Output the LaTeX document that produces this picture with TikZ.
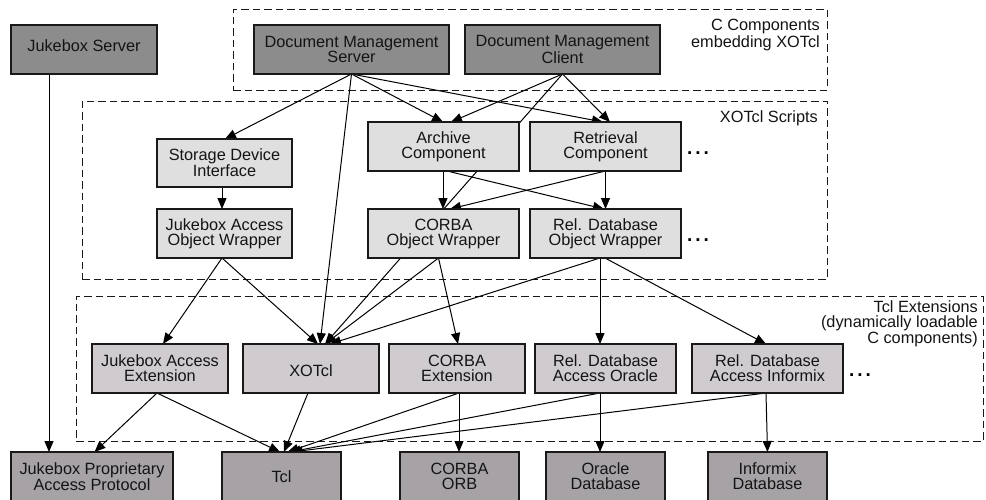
\documentclass[tikz,border=0pt]{standalone}
\usepackage{fontspec}
\setmainfont{Liberation Sans}
\usetikzlibrary{arrows.meta,backgrounds,positioning}
\newcommand{\tdots}{\textbf{.\kern2.9pt.\kern2.9pt.}}
\tikzset{
  base/.style={draw=black!90,line width=1.2pt,anchor=north west,inner sep=0pt,outer sep=0pt,align=center,
    text=black!92,font=\fontsize{16.3}{15}\selectfont,minimum height=49pt},
  darkbox/.style={base,fill=dark},
  lightbox/.style={base,fill=lightg},
  midbox/.style={base,fill=mauve},
  lowbox/.style={base,fill=lowg},
  frame/.style={draw=black!90,line width=1pt,dash pattern=on 7.5pt off 4pt,anchor=north west,inner sep=0pt,outer sep=0pt},
  conn/.style={draw=black,line width=1pt,-{Triangle[length=11pt,width=9pt]}},
  lbl/.style={anchor=east,align=right,inner sep=0pt,text=black!92,font=\fontsize{16.3}{15}\selectfont},
  dotsn/.style={anchor=center,inner sep=0pt,font=\fontsize{19}{19}\selectfont}
}
\definecolor{dark}{HTML}{8C8C8C}
\definecolor{lightg}{HTML}{DFDFDF}
\definecolor{mauve}{HTML}{CFCBCF}
\definecolor{lowg}{HTML}{A6A2A6}
\begin{document}
\begin{tikzpicture}[x=1pt,y=-1pt]
\path[use as bounding box,clip] (0,0) rectangle (986,499);
% boxes
\node[darkbox,minimum width=146pt,text height=12pt,text depth=8pt] (js) at (11,25) {Jukebox Server};
\node[darkbox,minimum width=195pt] (dms) at (254,25) {Document Management\\Server};
\node[darkbox,minimum width=195pt] (dmc) at (465,25) {Document Management\\Client};
\node[lightbox,minimum width=135pt,minimum height=48pt] (sdi) at (157,139) {Storage Device\\Interface};
\node[lightbox,minimum width=135pt] (jaow) at (157,209) {Jukebox Access\\Object Wrapper};
\node[lightbox,minimum width=151pt] (arc) at (368,122) {Archive\\Component};
\node[lightbox,minimum width=151pt] (ret) at (530,122) {Retrieval\\Component};
\node[lightbox,minimum width=151pt] (cow) at (368,209) {CORBA\\Object Wrapper};
\node[lightbox,minimum width=151pt] (row) at (530,209) {Rel. Database\\Object Wrapper};
\node[midbox,minimum width=136pt] (jae) at (92,344) {Jukebox Access\\Extension};
\node[midbox,minimum width=136pt,text height=18pt,text depth=3pt] (xot) at (243,344) {XOTcl};
\node[midbox,minimum width=136pt] (cex) at (389,344) {CORBA\\Extension};
\node[midbox,minimum width=141pt] (rdo) at (535,344) {Rel. Database\\Access Oracle};
\node[midbox,minimum width=151pt] (rdi) at (692,344) {Rel. Database\\Access Informix};
\node[lowbox,minimum width=162pt] (jpp) at (11,452) {Jukebox Proprietary\\Access Protocol};
\node[lowbox,minimum width=119pt] (tcl) at (222,452) {Tcl};
\node[lowbox,minimum width=119pt] (orb) at (400,452) {CORBA\\ORB};
\node[lowbox,minimum width=119pt] (ora) at (546,452) {Oracle\\Database};
\node[lowbox,minimum width=119pt] (inf) at (708,452) {Informix\\Database};
% labels
\node[lbl] (lc) at (820,35) {C Components\\embedding XOTcl};
\node[lbl] (lx) at (818,118) {XOTcl Scripts};
\node[lbl] (lt) at (978,323.5) {Tcl Extensions\\(dynamically loadable\\C components)};
\node[dotsn] (d1) at (698,153) {\tdots};
\node[dotsn] (d2) at (698,240) {\tdots};
\node[dotsn] (d3) at (860,375) {\tdots};
\begin{scope}[on background layer]
\node[frame,minimum width=594pt,minimum height=81pt] (fc) at (233,9) {};
\node[frame,minimum width=745pt,minimum height=178pt] (fx) at (82,101) {};
\node[frame,minimum width=907pt,minimum height=145pt] (ft) at (76,296) {};
% connectors
\draw[conn] ([xshift=-35pt]js.south) -- ([xshift=-43pt]jpp.north);
\draw[conn] (dms.south) -- ([xshift=0.5pt]sdi.north);
\draw[conn] (dms.south) -- ([xshift=-0.5pt]arc.north);
\draw[conn] (dms.south) -- ([xshift=-2.5pt]ret.north);
\draw[conn] (dms.south) -- ([xshift=9pt]xot.north);
\draw[conn] (dmc.south) -- ([xshift=7.5pt]arc.north);
\draw[conn] (dmc.south) -- ([xshift=4.5pt]ret.north);
\draw[conn] (dmc.south) -- ([xshift=14pt]xot.north);
\draw[conn] ([xshift=-0.5pt]arc.south) -- ([xshift=-0.5pt]cow.north);
\draw[conn] ([xshift=3.5pt]arc.south) -- ([xshift=-1.5pt]row.north);
\draw[conn] (ret.south) -- ([xshift=6.5pt]cow.north);
\draw[conn] (ret.south) -- (row.north);
\draw[conn] ([xshift=-2.5pt]sdi.south) -- ([xshift=-2.5pt]jaow.north);
\draw[conn] ([xshift=-2.5pt]jaow.south) -- ([xshift=3pt]jae.north);
\draw[conn] ([xshift=-2.5pt]jaow.south) -- ([xshift=7pt]xot.north);
\draw[conn] ([xshift=-5pt]cow.south) -- ([xshift=14pt]xot.north);
\draw[conn] ([xshift=-5pt]cow.south) -- ([xshift=1pt]cex.north);
\draw[conn] ([xshift=-5.5pt]row.south) -- ([xshift=19pt]xot.north);
\draw[conn] ([xshift=-5.5pt]row.south) -- ([xshift=-5.5pt]rdo.north);
\draw[conn] ([xshift=-0.5pt]row.south) -- ([xshift=-1.5pt]rdi.north);
\draw[conn] ([xshift=-3pt]jae.south) -- ([xshift=2.5pt]jpp.north);
\draw[conn] ([xshift=-3pt]jae.south) -- ([xshift=-1.5pt]tcl.north);
\draw[conn] ([xshift=-3pt]xot.south) -- ([xshift=2.5pt]tcl.north);
\draw[conn] ([xshift=2pt]cex.south) -- ([xshift=6pt]tcl.north);
\draw[conn] ([xshift=2pt]cex.south) -- ([xshift=-0.5pt]orb.north);
\draw[conn] ([xshift=-5.5pt]rdo.south) -- ([xshift=8pt]tcl.north);
\draw[conn] ([xshift=-5.5pt]rdo.south) -- ([xshift=-5.5pt]ora.north);
\draw[conn] ([xshift=-1.5pt]rdi.south) -- ([xshift=10pt]tcl.north);
\draw[conn] ([xshift=-1.5pt]rdi.south) -- ([xshift=0pt]inf.north);
\end{scope}
\end{tikzpicture}
\end{document}
